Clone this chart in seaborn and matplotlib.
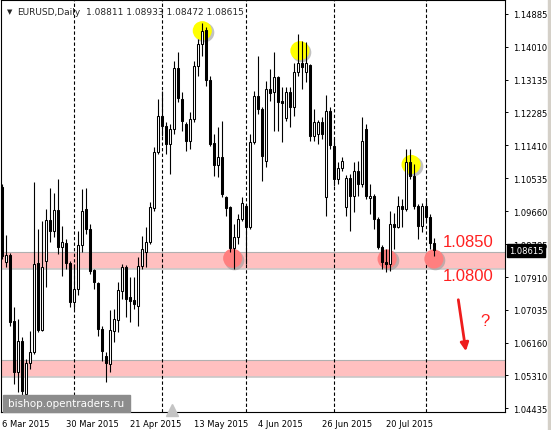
import numpy as np
import pandas as pd
import matplotlib.pyplot as plt
import seaborn as sns
from matplotlib import transforms
from matplotlib.patches import Rectangle

# EURUSD daily bars, 6 Mar 2015 .. 5 Aug 2015
opens = [1.10297, 1.08308, 1.08494, 1.06744, 1.05391, 1.06213, 1.04808, 1.05630, 1.05921, 1.08282,
         1.06505, 1.08335, 1.09422, 1.09130, 1.09687, 1.08706, 1.08812, 1.08282, 1.07247, 1.07592,
         1.08759, 1.09714, 1.09183, 1.08097, 1.07751, 1.06531, 1.05815, 1.05603, 1.06478, 1.06770,
         1.07539, 1.08176, 1.07380, 1.07301, 1.07141, 1.08202, 1.08573, 1.08839, 1.09740, 1.11225,
         1.12180, 1.11915, 1.11438, 1.11835, 1.13453, 1.12631, 1.11968, 1.11517, 1.12101, 1.13506,
         1.14090, 1.14461, 1.13135, 1.11464, 1.10881, 1.11093, 1.10032, 1.09767, 1.08680, 1.08971,
         1.09449, 1.09793, 1.09236, 1.11491, 1.12711, 1.12366, 1.10987, 1.12896, 1.12817, 1.13214,
         1.12578, 1.12127, 1.12817, 1.12419, 1.13347, 1.13586, 1.13347, 1.13533, 1.11650, 1.11703,
         1.12021, 1.10032, 1.12313, 1.11385, 1.10509, 1.10801, 1.09767, 1.10536, 1.10059, 1.10722,
         1.10377, 1.11835, 1.10006, 1.10059, 1.09449, 1.08706, 1.08308, 1.08255, 1.09316, 1.09236,
         1.09793, 1.09714, 1.10960, 1.10589, 1.09793, 1.09263, 1.09793, 1.09502, 1.08811]
highs = [1.10377, 1.09024, 1.08547, 1.07115, 1.06797, 1.06319, 1.05736, 1.06478, 1.10430, 1.09183,
         1.09396, 1.09714, 1.10271, 1.10138, 1.10509, 1.09263, 1.08918, 1.08335, 1.08255, 1.09130,
         1.10244, 1.10271, 1.09316, 1.08123, 1.07778, 1.06611, 1.05921, 1.07035, 1.07062, 1.07778,
         1.08255, 1.08229, 1.07910, 1.07910, 1.08441, 1.08998, 1.09236, 1.09899, 1.11358, 1.12631,
         1.12843, 1.12021, 1.11968, 1.13639, 1.13877, 1.12817, 1.12021, 1.12286, 1.13639, 1.14222,
         1.14647, 1.14540, 1.13241, 1.11703, 1.11888, 1.12048, 1.10059, 1.09793, 1.09316, 1.09581,
         1.10032, 1.09846, 1.11703, 1.12843, 1.13771, 1.12419, 1.13108, 1.13427, 1.13877, 1.13241,
         1.12949, 1.12949, 1.12949, 1.13586, 1.14355, 1.14169, 1.14143, 1.13560, 1.12366, 1.12074,
         1.12154, 1.12737, 1.12419, 1.11570, 1.10960, 1.11093, 1.10616, 1.10642, 1.10960, 1.10987,
         1.12154, 1.11968, 1.10377, 1.10112, 1.09502, 1.08759, 1.08653, 1.09661, 1.09608, 1.10059,
         1.09979, 1.11305, 1.11305, 1.10907, 1.09846, 1.09873, 1.09979, 1.09581, 1.08933]
lows = [1.08388, 1.08176, 1.06611, 1.05073, 1.04861, 1.04542, 1.04728, 1.05471, 1.05868, 1.06452,
        1.06478, 1.07645, 1.08839, 1.08971, 1.08520, 1.07937, 1.08123, 1.07115, 1.07062, 1.07433,
        1.08573, 1.09051, 1.07990, 1.07592, 1.06346, 1.05683, 1.05126, 1.05391, 1.06187, 1.06452,
        1.07327, 1.06850, 1.06717, 1.07062, 1.06611, 1.08123, 1.08176, 1.08786, 1.09661, 1.11172,
        1.11650, 1.11172, 1.10642, 1.11703, 1.12551, 1.11782, 1.11252, 1.11305, 1.12021, 1.13241,
        1.13771, 1.12976, 1.11385, 1.10589, 1.10562, 1.10032, 1.09528, 1.08573, 1.08123, 1.08786,
        1.09396, 1.08255, 1.09183, 1.11438, 1.12233, 1.10456, 1.10828, 1.12578, 1.11782, 1.11782,
        1.11491, 1.12048, 1.11888, 1.12180, 1.13241, 1.12896, 1.13082, 1.11517, 1.11517, 1.11438,
        1.11570, 1.09528, 1.11305, 1.10324, 1.10377, 1.10722, 1.09528, 1.09130, 1.09634, 1.10059,
        1.10297, 1.09979, 1.09581, 1.09183, 1.08653, 1.08123, 1.08043, 1.08070, 1.08653, 1.09210,
        1.09236, 1.09661, 1.10509, 1.09714, 1.08918, 1.09104, 1.09396, 1.08653, 1.08472]
closes = [1.08467, 1.08494, 1.06717, 1.05391, 1.06213, 1.04887, 1.05630, 1.05921, 1.08255, 1.06505,
          1.08176, 1.09422, 1.09130, 1.09687, 1.08706, 1.08839, 1.08282, 1.07247, 1.07592, 1.08759,
          1.09661, 1.09183, 1.08070, 1.07778, 1.06531, 1.05948, 1.05630, 1.06505, 1.06797, 1.07566,
          1.08176, 1.07327, 1.07274, 1.07194, 1.08202, 1.08653, 1.08839, 1.09767, 1.11225, 1.12180,
          1.11915, 1.11438, 1.11835, 1.13453, 1.12658, 1.12048, 1.11517, 1.12101, 1.13506, 1.14090,
          1.14434, 1.13135, 1.11438, 1.10881, 1.11093, 1.10112, 1.09740, 1.08680, 1.08971, 1.09449,
          1.09873, 1.09236, 1.11491, 1.12711, 1.12366, 1.11119, 1.12896, 1.12790, 1.13214, 1.12551,
          1.12530, 1.12817, 1.12419, 1.13347, 1.13586, 1.13480, 1.13586, 1.11650, 1.12021, 1.12021,
          1.11703, 1.12313, 1.11411, 1.10509, 1.10801, 1.10987, 1.10536, 1.10059, 1.10722, 1.10377,
          1.11517, 1.10059, 1.10059, 1.09449, 1.08706, 1.08308, 1.08255, 1.09316, 1.09236, 1.09793,
          1.09714, 1.10960, 1.10589, 1.09793, 1.09263, 1.09793, 1.09502, 1.08812, 1.08615]

date_ticks = [0, 16, 32, 48, 64, 80, 96]
date_labels = ['6 Mar 2015', '30 Mar 2015', '21 Apr 2015', '13 May 2015',
               '4 Jun 2015', '26 Jun 2015', '20 Jul 2015']
month_starts = [18, 40, 61, 83, 106]
price_ticks = [1.14885, 1.14010, 1.13135, 1.12285, 1.11410, 1.10535, 1.09660,
               1.08785, 1.07910, 1.07035, 1.06160, 1.05310, 1.04435]

zone_low = [1.08123, 1.05258]
zone_high = [1.08573, 1.05709]
level_labels = ['1.0850', '1.0800']
level_label_y = [1.08839, 1.07937]

tops_x = [50.2, 74.6, 102.4]
tops_y = [1.14442, 1.13912, 1.10894]
bottoms_x = [57.8, 96.4, 108.1]
bottoms_y = [1.08407, 1.08388, 1.08388]

bid = 1.08615
header = '1.08811 1.08933 1.08472 1.08615'

df = pd.DataFrame({'open': opens, 'high': highs, 'low': lows, 'close': closes})
df['idx'] = np.arange(len(df))

sns.set_style("white")
plt.rcParams['font.family'] = ['DejaVu Sans']

fig = plt.figure(figsize=(5.51, 4.31), dpi=100)
ax = fig.add_axes([1 / 551, 18 / 431, 504 / 551, 412 / 431])
ax.set_xlim(-0.125, 125.875)
ax.set_ylim(1.04330, 1.15256)

# support zones
for lo, hi in zip(zone_low, zone_high):
    ax.axhspan(lo, hi, color='#ffc0c0', lw=0, zorder=1)
    ax.axhline(hi, color='#b0b0b0', lw=0.8, zorder=1.2)
    ax.axhline(lo, color='#c8c8c8', lw=1.2, zorder=1.2)

# month separators
for m in month_starts:
    ax.axvline(m, color='black', lw=0.8, ls=(0, (3, 2)), zorder=1.5)

# circles behind the candles
shadow = transforms.offset_copy(ax.transData, fig=fig, x=1.5, y=-1.5, units='dots')
ax.scatter(tops_x + bottoms_x, tops_y + bottoms_y, s=200, color='#9a9a9a', alpha=0.6,
           linewidths=0, transform=shadow, zorder=1.8)
sns.scatterplot(x=tops_x, y=tops_y, s=190, color='#ffff00', edgecolor='none', ax=ax, zorder=2)
sns.scatterplot(x=bottoms_x, y=bottoms_y, s=190, color='#ff7f7f', edgecolor='none', ax=ax, zorder=2)

# candles
up = df['close'] >= df['open']
body_lo = np.minimum(df['open'], df['close'])
body_h = np.maximum((df['close'] - df['open']).abs(), 0.00027)
ax.vlines(df['idx'], df['low'], df['high'], color='black', lw=0.8, zorder=3)
ax.bar(df['idx'][up], body_h[up], bottom=body_lo[up], width=0.5, color='white',
       edgecolor='black', linewidth=0.75, zorder=4)
ax.bar(df['idx'][~up], body_h[~up], bottom=body_lo[~up], width=0.5, color='black',
       edgecolor='black', linewidth=0.75, zorder=4)

# level labels, arrow, question mark
for txt, y in zip(level_labels, level_label_y):
    ax.text(110.4, y, txt, color='#ff2020', fontsize=12, family='Liberation Sans',
            va='center', ha='left', zorder=6)
ax.annotate('', xy=(116.2, 1.05868), xytext=(114.1, 1.07380),
            arrowprops=dict(arrowstyle='-|>', color='#ee1c1c', lw=2, mutation_scale=12),
            zorder=6)
ax.text(119.8, 1.06744, '?', color='#ff2020', fontsize=12, family='Liberation Sans',
        va='center', ha='left', zorder=6)

# axes styling
for s in ax.spines.values():
    s.set_visible(True)
    s.set_color('black')
    s.set_linewidth(0.8)
ax.yaxis.tick_right()
ax.set_yticks(price_ticks)
ax.set_yticklabels([f'{p:.5f}' for p in price_ticks])
ax.set_xticks(date_ticks)
ax.set_xticklabels(date_labels, ha='left')
ax.tick_params(axis='y', length=2.5, width=0.7, pad=3.5, labelsize=6, colors='black')
ax.tick_params(axis='x', length=2.5, width=0.7, pad=2.5, labelsize=6, colors='black')

# current price box
ax.text(1.0 + 4 / 504, bid, '1.08615', transform=ax.get_yaxis_transform(), color='white',
        fontsize=6, va='center', ha='left', zorder=7,
        bbox=dict(boxstyle='square,pad=0.25', fc='black', ec='black'))

# header
ax.text(6 / 504, 0.973, '\u25bc', transform=ax.transAxes, fontsize=5, va='center', ha='left')
ax.text(16 / 504, 0.973, 'EURUSD,Daily', transform=ax.transAxes, fontsize=6.5,
        va='center', ha='left')
ax.text(85 / 504, 0.973, header, transform=ax.transAxes, fontsize=6.5, va='center', ha='left')

# watermark and shift marker
ax.add_patch(Rectangle((2 / 504, 0), 127 / 504, 17 / 412, transform=ax.transAxes,
                       color='#8c8c8c', zorder=8, clip_on=False))
ax.text(7 / 504, 8.5 / 412, 'bishop.opentraders.ru', transform=ax.transAxes, color='white',
        fontsize=7.5, va='center', ha='left', zorder=9)
ax.plot([170.5 / 504], [2.5 / 412], marker='^', markersize=8, color='#c4c4c4',
        transform=ax.transAxes, clip_on=False, zorder=8)

fig.patches.append(Rectangle((548 / 551, 0), 3 / 551, 1, transform=fig.transFigure,
                             color='#d4d0c8', zorder=0))

fig.savefig('out.png', dpi=100)
